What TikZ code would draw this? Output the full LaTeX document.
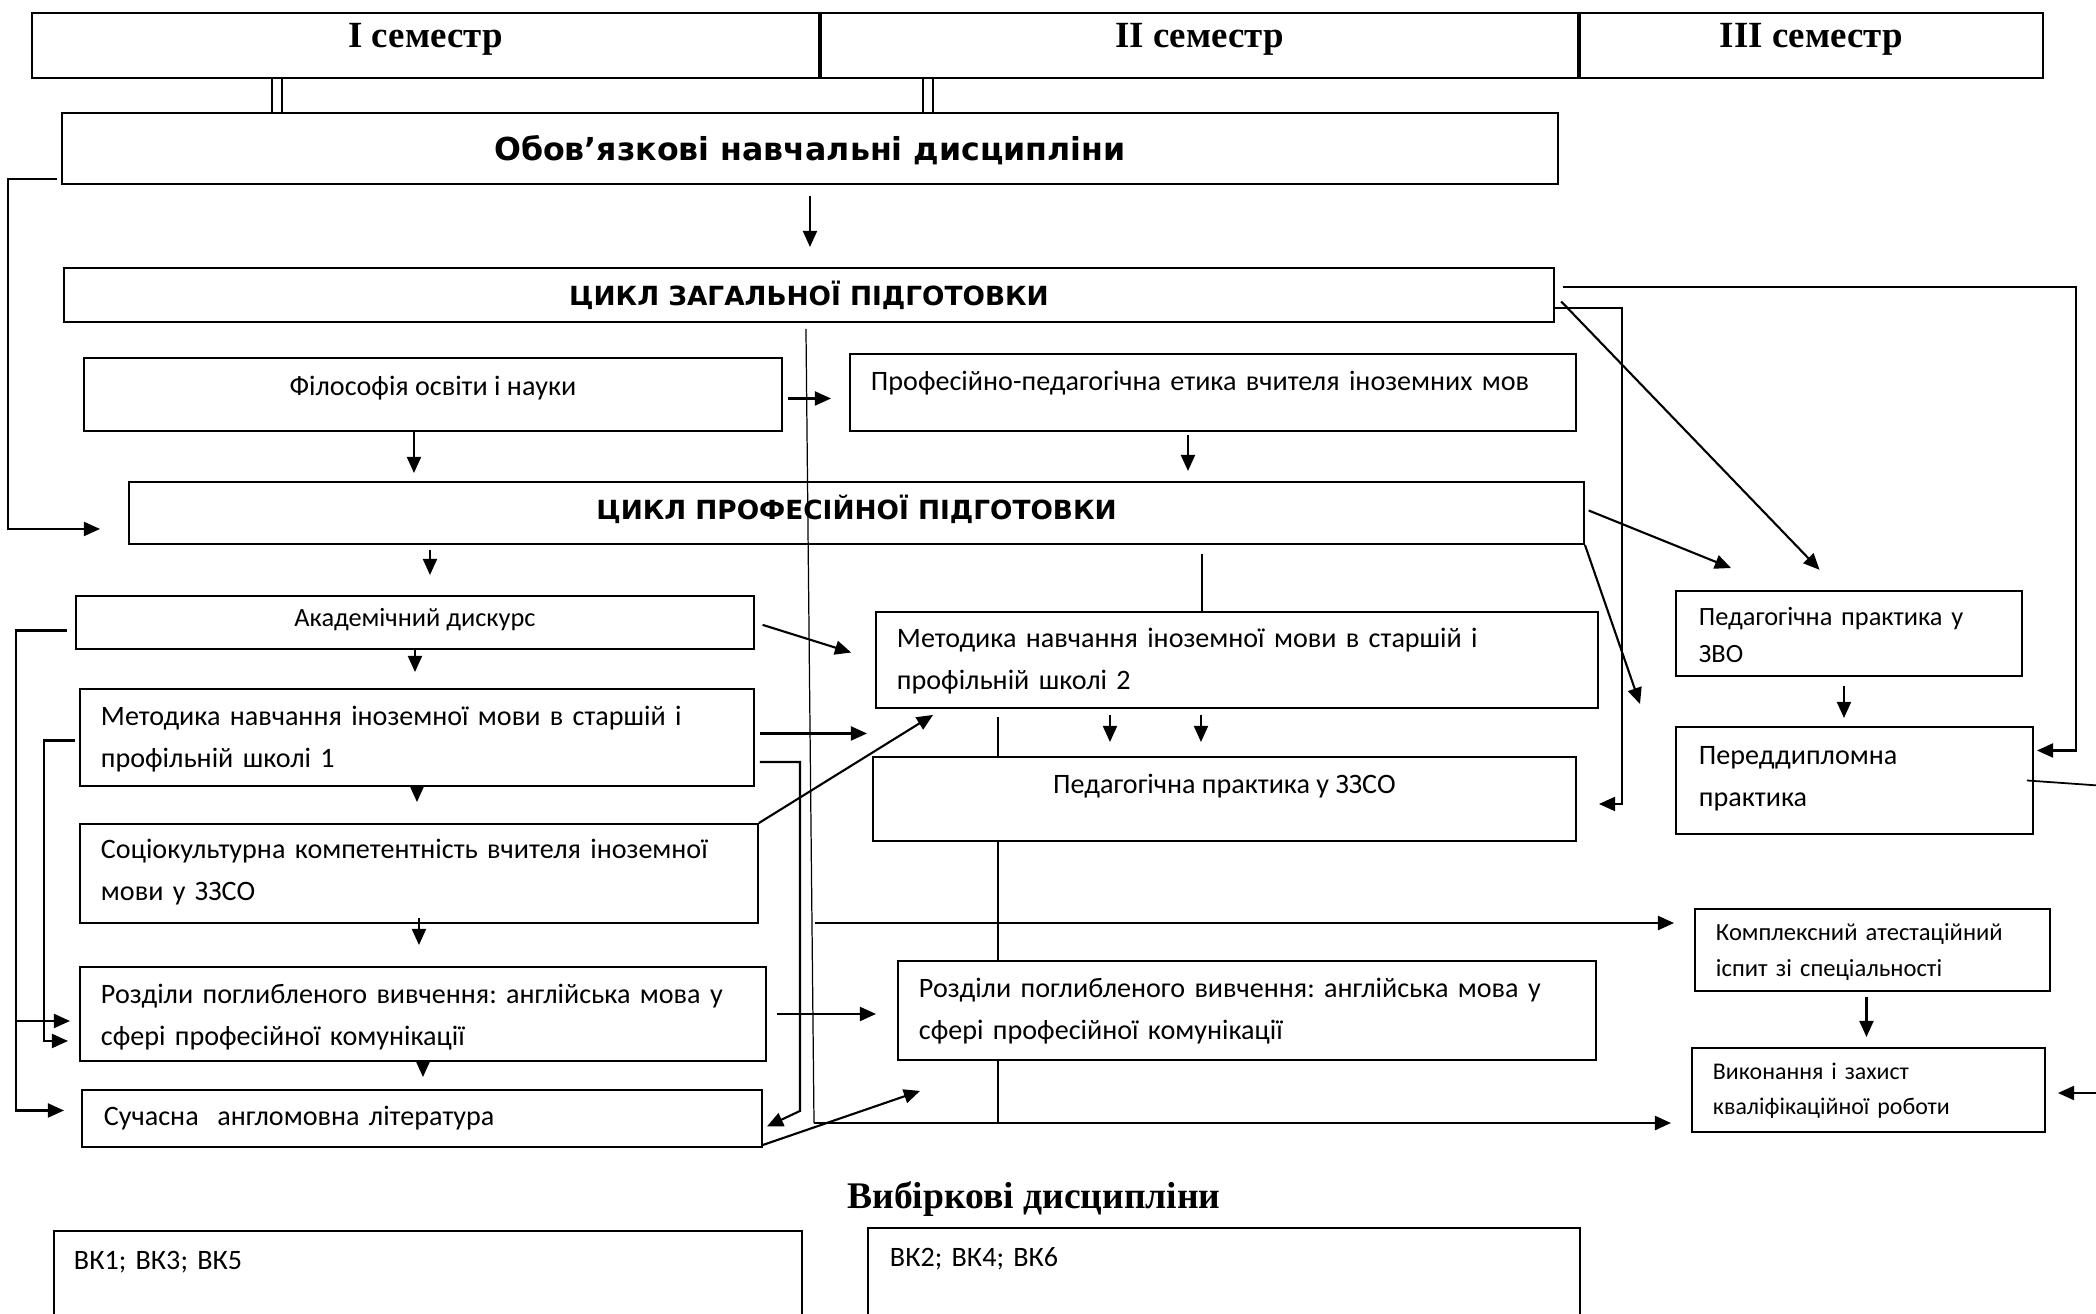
\documentclass[tikz,border=0pt]{standalone}
\usepackage{fontspec}
\setmainfont{Carlito}
\newfontfamily\serifhead{Liberation Serif}
\newfontfamily\sanshead{DejaVu Sans}
\usetikzlibrary{arrows.meta,backgrounds}
\frenchspacing
\newcommand{\BoxFont}{\fontsize{8}{11.7}\selectfont}
\newcommand{\SmallFont}{\fontsize{7.5}{10.5}\selectfont}
\newcommand{\TinyFont}{\fontsize{7}{10}\selectfont}
\newcommand{\MiniFont}{\fontsize{6.8}{9.7}\selectfont}
\newcommand{\SemFont}{\serifhead\bfseries\fontsize{10.5}{12}\selectfont}
\newcommand{\TitleFont}{\serifhead\bfseries\fontsize{10.7}{12}\selectfont}
\newcommand{\HeadFont}{\sanshead\bfseries\fontsize{9}{11}\selectfont}
\newcommand{\CycleFont}{\sanshead\bfseries\fontsize{7.5}{9}\selectfont}
\newcommand{\BoxLine}{0.55pt}
\begin{document}
\begin{tikzpicture}[
  >={Triangle[length=4.6pt,width=4pt]},
  box/.style={draw,line width=\BoxLine,fill=white,anchor=north west,
    inner ysep=0pt,inner xsep=0.21cm,align=left,font=\BoxFont},
  cbox/.style={box,inner xsep=0pt,align=center},
  dims/.style n args={3}{text width=#1,text height=#2,text depth=#3},
  cdims/.style n args={3}{minimum width=#1,text height=#2,text depth=#3},
  semcell/.style={draw,line width=\BoxLine,anchor=north west,inner sep=0pt,
    text height=0.35cm,text depth=0.30cm,font=\SemFont},
  title/.style={anchor=base,font=\TitleFont},
  arr/.style={->,line width=0.6pt},
  wire/.style={line width=0.35pt},
  dbl/.style={double,double distance=2.2pt,line width=0.5pt}
]
\useasboundingbox (0,0) rectangle (20.96,-13.13);

% Semesters
\node[semcell,minimum width=7.87cm] (sem1) at (0.31,-0.12) {I семестр};
\node[semcell,minimum width=7.57cm] (sem2) at (sem1.north east) {II семестр};
\node[semcell,minimum width=4.63cm] (sem3) at (sem2.north east) {III семестр};

% Cycles
\node[cbox,cdims={14.96cm}{0.475cm}{0.235cm},font=\HeadFont] (ob) at (0.61,-1.12) {Обов’язкові навчальні дисципліни};
\node[cbox,cdims={14.90cm}{0.38cm}{0.16cm},font=\CycleFont] (zag) at (0.63,-2.67) {ЦИКЛ ЗАГАЛЬНОЇ ПІДГОТОВКИ};
\node[cbox,cdims={6.98cm}{0.375cm}{0.355cm}] (fil) at (0.83,-3.57) {Філософія освіти і науки};
\node[box,dims={6.84cm}{0.37cm}{0.40cm}] (etyk) at (8.49,-3.53) {Професійно-педагогічна етика вчителя іноземних мов};
\node[cbox,cdims={14.55cm}{0.38cm}{0.24cm},font=\CycleFont] (prof) at (1.28,-4.81) {ЦИКЛ ПРОФЕСІЙНОЇ ПІДГОТОВКИ};

% Disciplines, first column
\node[cbox,cdims={6.78cm}{0.31cm}{0.22cm},font=\SmallFont] (akad) at (0.75,-5.95) {Академічний дискурс};
\node[box,dims={6.32cm}{0.37cm}{0.60cm}] (met1) at (0.79,-6.88) {Методика навчання іноземної мови в старшій і\\профільній школі 1};
\node[box,dims={6.36cm}{0.35cm}{0.64cm}] (soc) at (0.79,-8.23) {Соціокультурна компетентність вчителя іноземної\\мови у ЗЗСО};
\node[box,dims={6.44cm}{0.37cm}{0.57cm}] (roz1) at (0.79,-9.66) {Розділи поглибленого вивчення: англійська мова у\\сфері професійної комунікації};
\node[box,inner xsep=0.22cm,dims={6.36cm}{0.36cm}{0.21cm}] (suc) at (0.81,-10.89) {Сучасна\ \ англомовна література};

% Disciplines, second column
\node[box,dims={6.80cm}{0.36cm}{0.60cm}] (met2) at (8.75,-6.11) {Методика навчання іноземної мови в старшій і\\профільній школі 2};
\node[cbox,cdims={7.03cm}{0.37cm}{0.47cm}] (pzzso) at (8.72,-7.56) {Педагогічна практика у ЗЗСО};
\node[box,dims={6.56cm}{0.37cm}{0.62cm}] (roz2) at (8.97,-9.60) {Розділи поглибленого вивчення: англійська мова у\\сфері професійної комунікації};

% Practice and attestation
\node[box,inner xsep=0.23cm,dims={3.00cm}{0.35cm}{0.50cm},font=\SmallFont] (pzvo) at (16.75,-5.90) {Педагогічна практика у\\ЗВО};
\node[box,inner xsep=0.23cm,dims={3.11cm}{0.38cm}{0.69cm}] (pered) at (16.75,-7.26) {Переддипломна\\практика};
\node[box,dims={3.13cm}{0.32cm}{0.50cm},font=\TinyFont] (kompl) at (16.94,-9.08) {Комплексний атестаційний\\іспит зі спеціальності};
\node[box,dims={3.11cm}{0.32cm}{0.52cm},font=\MiniFont] (vyk) at (16.91,-10.47) {Виконання і захист\\кваліфікаційної роботи};

% Elective block
\node[title] (vyb) at (10.34,-12.08) {Вибіркові дисципліни};
\node[box,inner xsep=0.20cm,dims={7.08cm}{0.39cm}{1.40cm}] (vk1) at (0.53,-12.30) {ВК1; ВК3; ВК5};
\node[box,inner xsep=0.22cm,dims={6.68cm}{0.39cm}{1.40cm}] (vk2) at (8.67,-12.27) {ВК2; ВК4; ВК6};

\coordinate (c1) at (2.77,0);
\coordinate (c2) at (9.28,0);
\coordinate (midhigh) at (8.15,-9.23);
\coordinate (midlow) at (8.14,-11.23);
\coordinate (offpered) at (21.2,-7.87);
\coordinate (offvyk) at (21.2,-10.93);

% Semester links
\draw[dbl] (sem1.south -| c1) -- (ob.north -| c1);
\draw[dbl] (sem2.south -| c2) -- (ob.north -| c2);

% Cycle links
\draw[arr,shorten <=0.11cm,shorten >=0.20cm] (ob.south) -- (ob.south |- zag.north);
\draw[arr,shorten <=0.04cm,shorten >=0.28cm] ([yshift=0.06cm]ob.south west) -- ++(-0.53,0) |- ([yshift=-0.16cm]prof.west);
\draw[arr,shorten <=0.08cm,shorten >=0.03cm] ([yshift=0.08cm]zag.east) -- ++(5.21,0) |- ([yshift=0.30cm]pered.east);
\draw[arr,shorten >=0.22cm] ([yshift=-0.13cm]zag.east) -- ++(0.67,0) |- ([yshift=-0.05cm]pzzso.east);
\draw[arr,shorten <=0.09cm,shorten >=0.28cm] (zag.east) -- ([xshift=-0.10cm]pzvo.north);
\draw[wire] ([xshift=-0.03cm,yshift=-0.06cm]zag.south) -- (midlow);
\draw[arr,line width=0.7pt,shorten >=0.2cm] (midhigh) -- (midhigh -| kompl.west);
\draw[arr,line width=0.7pt,shorten >=0.2cm] (midlow) -- (midlow -| vyk.west);

% General cycle
\draw[arr,shorten <=0.05cm,shorten >=0.18cm] ([yshift=-0.04cm]fil.east) -- ([yshift=-0.04cm]fil.east -| etyk.west);
\draw[arr,shorten >=0.08cm] ([xshift=-0.19cm]fil.south) -- ([xshift=-0.19cm]fil.south |- prof.north);
\draw[arr,shorten <=0.03cm,shorten >=0.10cm] ([xshift=-0.25cm]etyk.south) -- ([xshift=-0.25cm]etyk.south |- prof.north);

% Professional cycle
\draw[arr,shorten <=0.05cm,shorten >=0.20cm] ([xshift=0.15cm]akad.north |- prof.south) -- ([xshift=0.15cm]akad.north);
\draw[wire,shorten <=0.09cm] ([xshift=-0.35cm]met2.north |- prof.south) -- ([xshift=-0.35cm]met2.north);
\draw[arr,shorten <=0.04cm] ([yshift=0.04cm]prof.east) -- ([shift={(0.56cm,0.22cm)}]pzvo.north west);
\draw[arr] (prof.south east) -- ([shift={(-0.35cm,0.22cm)}]pered.north west);

% Left rails
\draw[arr,shorten <=0.08cm,shorten >=0.17cm] ([yshift=-0.08cm]akad.west) -- ++(-0.59,0) |- ([yshift=0.08cm]suc.west);
\draw[arr,shorten >=0.09cm] ([shift={(-0.63cm,-0.07cm)}]roz1.west) -- ([yshift=-0.07cm]roz1.west);
\draw[arr,shorten <=0.04cm,shorten >=0.11cm] ([yshift=-0.03cm]met1.west) -- ++(-0.35,0) |- ([yshift=-0.27cm]roz1.west);

% First column
\draw[arr,shorten >=0.16cm] (akad.south) -- (akad.south |- met1.north);
\draw[arr,shorten <=-0.12cm,shorten >=0.21cm] (met1.south) -- (met1.south |- soc.north);
\draw[arr,shorten <=-0.06cm,shorten >=0.21cm] (soc.south) -- (soc.south |- roz1.north);
\draw[arr,shorten >=0.12cm] (roz1.south) -- (roz1.south |- suc.north);

% Across the columns
\draw[arr,shorten <=0.08cm,shorten >=0.25cm] (akad.east) -- (met2.west);
\draw[arr,shorten <=0.05cm,shorten >=0.08cm] ([yshift=0.04cm]met1.east) -- ([yshift=0.04cm]met1.east -| met2.west);
\draw[arr,shorten <=0.05cm] ([yshift=-0.245cm]met1.east) -- ++(0.45,0) -- ++(0,-3.49) -- ([shift={(0.04cm,-0.08cm)}]suc.east);
\draw[arr] (soc.north east) -- ([shift={(0.58cm,-0.06cm)}]met2.south west);
\draw[arr,shorten <=0.1cm,shorten >=0.21cm] (roz1.east) -- (roz1.east -| roz2.west);
\draw[arr] ([yshift=0.03cm]suc.south east) -- ([shift={(0.23cm,-0.30cm)}]roz2.south west);

% Second column
\draw[arr,shorten <=0.06cm,shorten >=0.14cm] ([xshift=-1.27cm]met2.south) -- ([xshift=-1.27cm]met2.south |- pzzso.north);
\draw[arr,shorten <=0.06cm,shorten >=0.14cm] ([xshift=-0.36cm]met2.south) -- ([xshift=-0.36cm]met2.south |- pzzso.north);

% Right column
\draw[arr,shorten <=0.09cm,shorten >=0.08cm] ([xshift=-0.05cm]pzvo.south) -- ([xshift=-0.05cm]pzvo.south |- pered.north);
\draw[arr,shorten <=0.05cm,shorten >=0.10cm] ([xshift=-0.06cm]kompl.south) -- ([xshift=-0.06cm]kompl.south |- vyk.north);
\draw[line width=0.5pt] ([xshift=-0.07cm]pered.east) -- (offpered);
\draw[arr,shorten >=0.12cm] (offvyk) -- (offvyk -| vyk.east);

\begin{pgfonlayer}{background}
  \draw[wire] ([xshift=-2.39cm,yshift=-0.08cm]met2.south) -- ([xshift=-2.39cm]met2.south |- midlow);
\end{pgfonlayer}

\end{tikzpicture}
\end{document}
